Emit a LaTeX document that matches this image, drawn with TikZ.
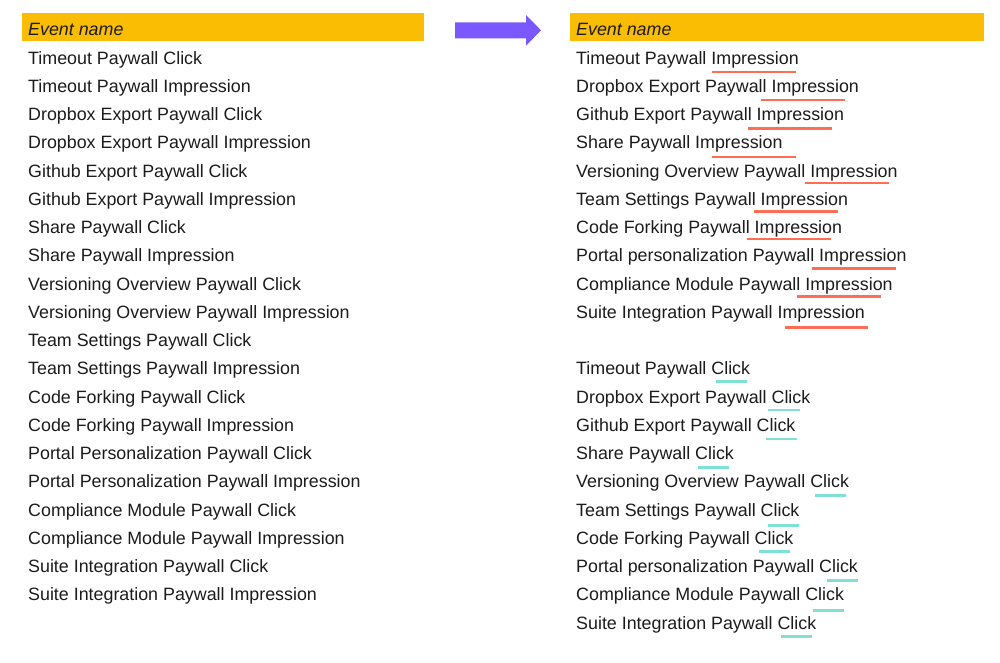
\documentclass[tikz,border=0pt]{standalone}
\usepackage{fontspec}
\setmainfont{Liberation Sans}
\definecolor{hdr}{HTML}{FBBC04}
\definecolor{arrowc}{HTML}{7B57FF}
\definecolor{impc}{HTML}{FF6D55}
\definecolor{clkc}{HTML}{7EE0D7}
\definecolor{txt}{HTML}{1C1C1C}
\tikzset{
  row/.style={anchor=base west, inner sep=0pt, text=txt, font=\fontsize{17.85}{20}\selectfont},
  hdrtext/.style={anchor=base west, inner sep=0pt, text=txt, font=\fontsize{17.85}{20}\selectfont\itshape},
  hdrbar/.style={fill=hdr, draw=none},
  impline/.style={draw=impc, line width=2.9pt},
  clkline/.style={draw=clkc, line width=2.9pt},
}
\begin{document}
\begin{tikzpicture}[x=1pt,y=-1pt]
\useasboundingbox (0,0) rectangle (1000,662);
\fill[white] (0,0) rectangle (1000,662);
% headers
\fill[hdrbar] (22,13) rectangle (424,41);
\node[hdrtext] (hl) at (28,35) {Event name};
\fill[hdrbar] (569.5,13) rectangle (983.5,41);
\node[hdrtext] (hr) at (576,35) {Event name};
% arrow
\fill[arrowc] (455,22.3) -- (526,22.3) -- (526,15) -- (541,30.3) -- (526,45.7) -- (526,38.3) -- (455,38.3) -- cycle;
% left list
\foreach \t [count=\i from 0] in {
  Timeout Paywall Click,
  Timeout Paywall Impression,
  Dropbox Export Paywall Click,
  Dropbox Export Paywall Impression,
  Github Export Paywall Click,
  Github Export Paywall Impression,
  Share Paywall Click,
  Share Paywall Impression,
  Versioning Overview Paywall Click,
  Versioning Overview Paywall Impression,
  Team Settings Paywall Click,
  Team Settings Paywall Impression,
  Code Forking Paywall Click,
  Code Forking Paywall Impression,
  Portal Personalization Paywall Click,
  Portal Personalization Paywall Impression,
  Compliance Module Paywall Click,
  Compliance Module Paywall Impression,
  Suite Integration Paywall Click,
  Suite Integration Paywall Impression}
  \node[row] (l\i) at (28,{64+28.25*\i}) {\t};
% right list: impressions
\foreach \t [count=\i from 0] in {
  Timeout Paywall Impression,
  Dropbox Export Paywall Impression,
  Github Export Paywall Impression,
  Share Paywall Impression,
  Versioning Overview Paywall Impression,
  Team Settings Paywall Impression,
  Code Forking Paywall Impression,
  Portal personalization Paywall Impression,
  Compliance Module Paywall Impression,
  Suite Integration Paywall Impression}
  \node[row] (ri\i) at (576,{64+28.25*\i}) {\t};
% right list: clicks
\foreach \t [count=\i from 0] in {
  Timeout Paywall Click,
  Dropbox Export Paywall Click,
  Github Export Paywall Click,
  Share Paywall Click,
  Versioning Overview Paywall Click,
  Team Settings Paywall Click,
  Code Forking Paywall Click,
  Portal personalization Paywall Click,
  Compliance Module Paywall Click,
  Suite Integration Paywall Click}
  \node[row] (rc\i) at (576,{64+28.25*(\i+11)}) {\t};
% impression underlines
\foreach \a/\b/\y in {712/796/72, 761/845/100, 748/832/128.5, 712/796/157, 805/889/183,
  754/838/211.5, 747/831/239, 812/896/268.3, 797/881/296.3, 785/868/327.5}
  \draw[impline] (\a,\y) -- (\b,\y);
% click underlines
\foreach \a/\b/\y in {716/747/381.7, 768/800/410, 766/797/439, 698/729/467.7, 815/846/495.7,
  768/799/525.7, 759/790/551.7, 827/858/580.7, 813/844/610.7, 781/812/636.3}
  \draw[clkline] (\a,\y) -- (\b,\y);
\end{tikzpicture}
\end{document}
